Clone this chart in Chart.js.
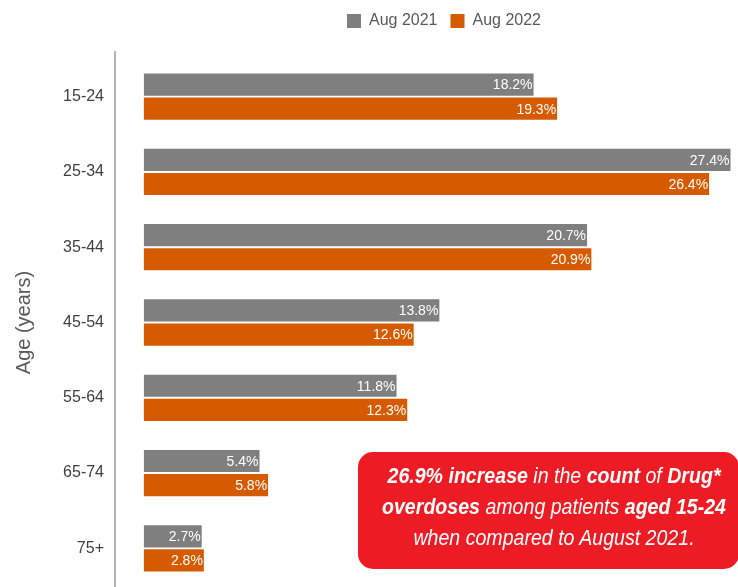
<!DOCTYPE html>
<html>
<head>
<meta charset="utf-8">
<script src="https://cdn.jsdelivr.net/npm/chart.js@4/dist/chart.umd.min.js"></script>
<style>
  body { margin: 0; background: #fff; }
  .wrap { position: relative; width: 738px; height: 587px; overflow: hidden; }
  .callout {
    position: absolute; left: 358px; top: 452px; width: 381px; height: 117px;
    background: #ed1c24; border-radius: 15px; color: #fff;
    font-family: "Liberation Sans", Arial, sans-serif;
    font-style: italic; font-size: 22px; line-height: 31px;
  }
  .callout .txt {
    position: absolute; left: -24px; top: 8px; width: 440px;
    text-align: center; white-space: nowrap;
    transform: scaleX(0.89); transform-origin: center;
  }
  .callout b { font-weight: bold; }
</style>
</head>
<body>
<div class="wrap">
  <canvas id="ageChart"></canvas>
  <div class="callout"><div class="txt"><b>26.9% increase</b> in the <b>count</b> of <b>Drug*</b><br><b>overdoses</b> among patients <b>aged 15-24</b><br>when compared to August 2021.</div></div>
</div>
<script>
const ageGroups = ['15-24', '25-34', '35-44', '45-54', '55-64', '65-74', '75+'];
const aug2021 = [18.2, 27.4, 20.7, 13.8, 11.8, 5.4, 2.7];
const aug2022 = [19.3, 26.4, 20.9, 12.6, 12.3, 5.8, 2.8];

const GRAY = '#7f7f7f';
const ORANGE = '#d55a00';

// white % labels at the inside end of each bar
const barLabels = {
  id: 'barLabels',
  afterDatasetsDraw(chart) {
    const ctx = chart.ctx;
    ctx.save();
    ctx.font = '14px "Liberation Sans", Arial, sans-serif';
    ctx.fillStyle = '#ffffff';
    ctx.textAlign = 'right';
    ctx.textBaseline = 'middle';
    chart.data.datasets.forEach(function (ds, i) {
      chart.getDatasetMeta(i).data.forEach(function (bar, j) {
        ctx.fillText(ds.data[j].toFixed(1) + '%', bar.x - 1, bar.y + 1);
      });
    });
    ctx.restore();
  }
};

// vertical axis line, a bit taller than the plot area
const axisLine = {
  id: 'axisLine',
  afterDraw(chart) {
    const a = chart.chartArea;
    const ctx = chart.ctx;
    ctx.save();
    ctx.strokeStyle = '#b4b4b4';
    ctx.lineWidth = 2;
    ctx.beginPath();
    ctx.moveTo(a.left, a.top - 8);
    ctx.lineTo(a.left, chart.height);
    ctx.stroke();
    ctx.restore();
  }
};

// fixed legend height, legend centred a bit right of the canvas centre
const legendTweak = {
  id: 'legendTweak',
  beforeInit(chart) {
    const fit = chart.legend.fit;
    chart.legend.fit = function () {
      fit.call(this);
      this.height = 59;
    };
  },
  afterLayout(chart) {
    chart.legend.left += 75;
    chart.legend.right += 75;
  }
};

new Chart(document.getElementById('ageChart'), {
  type: 'bar',
  data: {
    labels: ageGroups,
    datasets: [
      { label: 'Aug 2021', data: aug2021, backgroundColor: GRAY },
      { label: 'Aug 2022', data: aug2022, backgroundColor: ORANGE }
    ]
  },
  options: {
    indexAxis: 'y',
    responsive: true,
    maintainAspectRatio: false,
    animation: false,
    categoryPercentage: 0.64,
    barPercentage: 0.92,
    layout: { padding: { top: 0, right: 0, bottom: 1, left: 0 } },
    plugins: {
      tooltip: { enabled: false },
      legend: {
        position: 'top',
        labels: {
          boxWidth: 14,
          boxHeight: 14,
          padding: 13,
          color: '#595959',
          font: { family: '"Liberation Sans", Arial, sans-serif', size: 16 }
        }
      }
    },
    scales: {
      x: { display: false, min: -1.35, max: 27.75 },
      y: {
        grid: { display: false, drawTicks: false },
        border: { display: false },
        ticks: {
          padding: 11,
          color: '#404040',
          font: { family: '"Liberation Sans", Arial, sans-serif', size: 16 }
        },
        title: {
          display: true,
          text: 'Age (years)',
          color: '#595959',
          padding: { top: 12, bottom: 0 },
          font: { family: '"Liberation Sans", Arial, sans-serif', size: 20 }
        },
        afterFit(scale) {
          scale.width = 115;
          scale.paddingTop = 0;
          scale.paddingBottom = 0;
        }
      }
    }
  },
  plugins: [barLabels, axisLine, legendTweak]
});
</script>
</body>
</html>
